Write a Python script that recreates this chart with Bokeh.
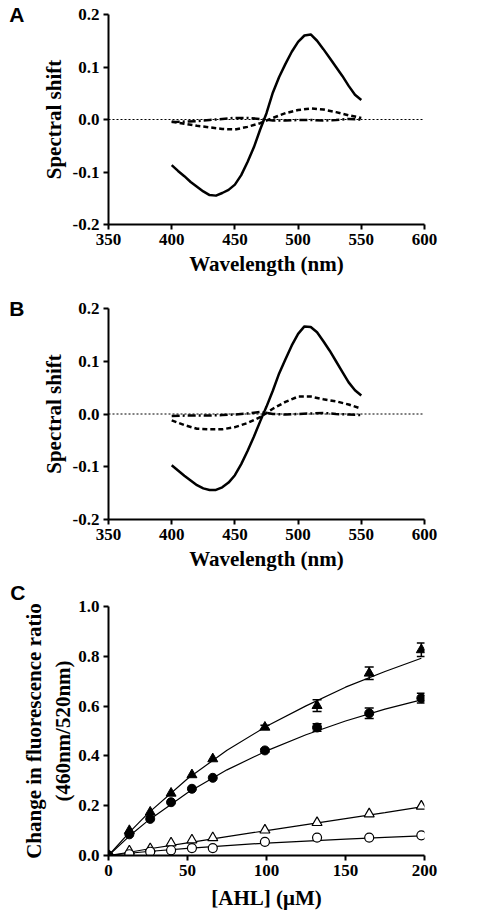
from bokeh.plotting import figure
from bokeh.models import (Span, NumeralTickFormatter, FixedTicker, Whisker, LinearAxis,
                          ColumnDataSource, TeeHead, Range1d)
from bokeh.layouts import column
from bokeh.embed import file_html
from bokeh.resources import INLINE

# ---------------- data ----------------
# Panel A
wl_a_solid = [400, 405, 410, 415, 420, 425, 430, 435, 440, 445, 450, 455, 460, 465, 470,
              475, 480, 485, 490, 495, 500, 505, 510, 515, 520, 525, 530, 535, 540, 545, 550]
a_solid = [-0.087, -0.098, -0.108, -0.119, -0.128, -0.137, -0.144, -0.145, -0.140, -0.134,
           -0.124, -0.106, -0.081, -0.053, -0.019, 0.012, 0.051, 0.081, 0.106, 0.129, 0.148,
           0.160, 0.162, 0.150, 0.134, 0.117, 0.100, 0.083, 0.064, 0.047, 0.037]
wl_a_small = [400, 410, 420, 430, 440, 450, 460, 470, 480, 490, 500, 510, 520, 530, 540, 550]
a_dashed = [-0.004, -0.008, -0.012, -0.015, -0.018, -0.019, -0.014, -0.007, 0.003, 0.012,
            0.018, 0.021, 0.019, 0.014, 0.008, 0.003]
a_dashdot = [-0.005, -0.004, -0.003, -0.001, 0.001, 0.003, 0.003, 0.001, -0.002, -0.002,
             -0.001, -0.001, -0.002, -0.001, 0.001, 0.000]

# Panel B
wl_b_solid = wl_a_solid
b_solid = [-0.097, -0.107, -0.117, -0.126, -0.135, -0.141, -0.144, -0.144, -0.139, -0.130,
           -0.116, -0.095, -0.070, -0.043, -0.014, 0.014, 0.044, 0.077, 0.104, 0.130, 0.152,
           0.166, 0.165, 0.155, 0.138, 0.120, 0.100, 0.080, 0.060, 0.045, 0.035]
wl_b_small = wl_a_small
b_dashed = [-0.012, -0.021, -0.028, -0.029, -0.029, -0.025, -0.017, -0.006, 0.010, 0.023,
            0.033, 0.033, 0.028, 0.024, 0.018, 0.010]
b_dashdot = [-0.004, -0.003, -0.003, -0.003, -0.002, -0.001, 0.001, 0.004, 0.000, -0.001,
             0.000, 0.001, 0.002, 0.000, -0.001, -0.002]

# Panel C
ahl = [0, 13.2, 26.4, 39.6, 52.8, 66, 99, 132, 165, 198]
tri_filled = [0, 0.100, 0.174, 0.250, 0.324, 0.388, 0.515, 0.602, 0.732, 0.826]
tri_filled_err = [0, 0, 0, 0, 0, 0, 0.008, 0.024, 0.025, 0.027]
circ_filled = [0, 0.085, 0.147, 0.214, 0.268, 0.312, 0.422, 0.514, 0.571, 0.632]
circ_filled_err = [0, 0, 0, 0, 0, 0, 0.006, 0.015, 0.021, 0.020]
tri_open = [0, 0.018, 0.027, 0.050, 0.062, 0.071, 0.102, 0.132, 0.167, 0.198]
circ_open = [0, 0.005, 0.015, 0.021, 0.030, 0.030, 0.055, 0.072, 0.072, 0.081]

fit_x = [0, 13.2, 25, 50, 75, 100, 125, 150, 175, 198]
fit_tri_filled = [0, 0.093, 0.169, 0.308, 0.423, 0.519, 0.601, 0.676, 0.739, 0.792]
fit_circ_filled = [0, 0.078, 0.140, 0.252, 0.344, 0.420, 0.485, 0.540, 0.588, 0.625]
fit_tri_open = [0, 0.013, 0.026, 0.051, 0.076, 0.100, 0.124, 0.148, 0.172, 0.195]
fit_circ_open = [0, 0.009, 0.016, 0.029, 0.040, 0.050, 0.058, 0.066, 0.073, 0.079]

spec_xticks = [350, 400, 450, 500, 550, 600]
spec_yticks = [-0.2, -0.1, 0.0, 0.1, 0.2]
c_xticks = [0, 50, 100, 150, 200]
c_yticks = [0.0, 0.2, 0.4, 0.6, 0.8, 1.0]
panel_letters = ["A", "B", "C\n "]

SERIF = "Liberation Serif"
SANS = "Liberation Sans"


def style(p, xlabel, ylabel, xticks, yticks):
    p.xaxis.axis_label = xlabel
    p.yaxis.axis_label = ylabel
    p.xaxis.ticker = FixedTicker(ticks=xticks)
    p.yaxis.ticker = FixedTicker(ticks=yticks)
    p.yaxis.formatter = NumeralTickFormatter(format="0.0")
    for ax in p.xaxis + p.yaxis:
        ax.axis_line_width = 2
        ax.axis_line_color = "black"
        ax.major_tick_line_width = 2
        ax.major_tick_line_color = "black"
        ax.major_tick_out = 5
        ax.major_tick_in = 0
        ax.minor_tick_out = 0
        ax.minor_tick_in = 0
        ax.major_label_text_font = SERIF
        ax.major_label_text_font_style = "bold"
        ax.major_label_text_font_size = "17px"
        ax.major_label_text_color = "black"
        ax.major_label_standoff = 4
        ax.axis_label_text_font = SERIF
        ax.axis_label_text_font_style = "bold"
        ax.axis_label_text_font_size = "21px"
        ax.axis_label_text_color = "black"
        ax.axis_label_standoff = 4
    p.xaxis.axis_label_standoff = 4
    p.grid.visible = False
    p.outline_line_color = None


def letter(p, txt, at, standoff):
    ax = LinearAxis(ticker=FixedTicker(ticks=[at]), major_label_overrides={at: txt},
                    axis_line_color=None, major_tick_line_color=None,
                    minor_tick_line_color=None, major_tick_out=0, major_tick_in=0,
                    minor_tick_out=0, minor_tick_in=0, major_label_standoff=standoff,
                    major_label_text_font=SANS, major_label_text_font_style="bold",
                    major_label_text_font_size="21px", major_label_text_color="black")
    p.add_layout(ax, "left")


def spectral(height, top, bottom, wl_solid, solid, wl_small, dashed, dashdot, txt):
    p = figure(width=498, height=height, x_range=Range1d(350, 600),
               y_range=Range1d(-0.2, 0.2),
               min_border_left=108, min_border_right=74, min_border_top=top,
               min_border_bottom=bottom, toolbar_location=None, output_backend="svg")
    style(p, "Wavelength (nm)", "Spectral shift", spec_xticks, spec_yticks)
    p.add_layout(Span(location=0, dimension="width", line_color="black", line_width=1,
                      line_dash="2 2"))
    p.line(wl_small, dashdot, line_color="black", line_width=2.5, line_dash="8 3 2 3")
    p.line(wl_small, dashed, line_color="black", line_width=2.5, line_dash="5 3")
    p.line(wl_solid, solid, line_color="black", line_width=2.5, line_join="round")
    letter(p, txt, spec_yticks[-1], 14)
    return p


pa = spectral(283, 14, 59, wl_a_solid, a_solid, wl_a_small, a_dashed, a_dashdot,
              panel_letters[0])
pb = spectral(292, 25, 56, wl_b_solid, b_solid, wl_b_small, b_dashed, b_dashdot,
              panel_letters[1])

pc = figure(width=498, height=338, x_range=Range1d(0, 200), y_range=Range1d(0, 1.0),
            min_border_left=108, min_border_right=17, min_border_top=31,
            min_border_bottom=58, toolbar_location=None, output_backend="svg")
style(pc, "[AHL] (μM)", "Change in fluorescence ratio\n(460nm/520nm)", c_xticks, c_yticks)
pc.yaxis.axis_label_standoff = 0
pc.xaxis.axis_label_standoff = 7

for fy in [fit_tri_filled, fit_circ_filled, fit_tri_open, fit_circ_open]:
    pc.line(fit_x, fy, line_color="black", line_width=1.2)

for ys, errs in [(tri_filled, tri_filled_err), (circ_filled, circ_filled_err)]:
    xs = [x for x, e in zip(ahl, errs) if e > 0]
    up = [y + e for y, e in zip(ys, errs) if e > 0]
    lo = [y - e for y, e in zip(ys, errs) if e > 0]
    src = ColumnDataSource(dict(base=xs, upper=up, lower=lo))
    pc.add_layout(Whisker(source=src, base="base", upper="upper", lower="lower",
                          line_color="black", line_width=1.5,
                          upper_head=TeeHead(size=9, line_width=1.5, line_color="black"),
                          lower_head=TeeHead(size=9, line_width=1.5, line_color="black")))

pc.scatter(ahl, tri_open, marker="triangle", size=10, fill_color="white", line_color="black",
           line_width=1.2)
pc.scatter(ahl, circ_open, marker="circle", size=9, fill_color="white", line_color="black",
           line_width=1.2)
pc.scatter(ahl, tri_filled, marker="triangle", size=10, fill_color="black", line_color="black")
pc.scatter(ahl, circ_filled, marker="circle", size=9, fill_color="black", line_color="black")
letter(pc, panel_letters[2], c_yticks[-1], -6)

layout = column(pa, pb, pc)
open("out.html", "w").write(file_html(layout, INLINE))
